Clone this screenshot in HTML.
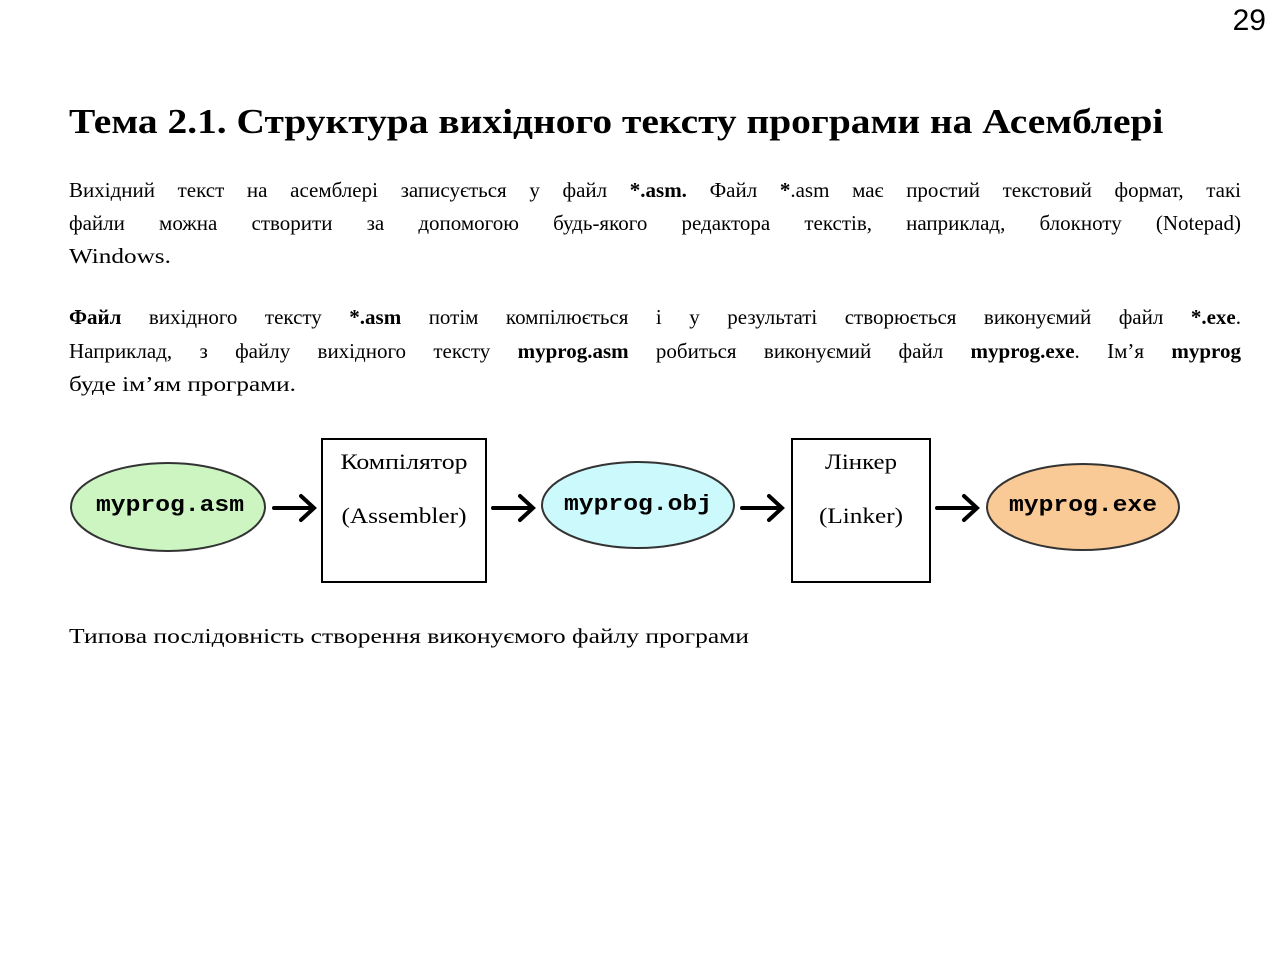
<!DOCTYPE html>
<html><head><meta charset="utf-8"><style>
body{margin:0;width:1280px;height:955px;background:#fff;position:relative;overflow:hidden;font-family:"Liberation Serif",serif;color:#000}
.a{position:absolute;white-space:nowrap;transform-origin:0 0}
.l{position:absolute;left:69px;width:1172px;font-size:21px;text-align:justify;text-align-last:justify;white-space:nowrap;line-height:24px}
</style></head><body>
<div class="a" style="right:14px;top:4px;font:30px 'Liberation Sans',sans-serif">29</div>
<div class="a" style="left:69px;top:100px;font-size:35px;font-weight:bold;line-height:44px;transform:scaleX(1.127)">Тема 2.1. Структура вихідного тексту програми на Асемблері</div>
<div class="l" style="top:178px">Вихідний текст на асемблері записується у файл <b>*.asm.</b> Файл <b>*</b>.asm має простий текстовий формат, такі</div>
<div class="l" style="top:211px">файли можна створити за допомогою будь-якого редактора текстів, наприклад, блокноту (Notepad)</div>
<div class="a" style="left:69px;top:244px;font-size:21px;line-height:24px;transform:scaleX(1.2)">Windows.</div>
<div class="l" style="top:305px"><b>Файл</b> вихідного тексту <b>*.asm</b> потім компілюється і у результаті створюється виконуємий файл <b>*.exe</b>.</div>
<div class="l" style="top:339px">Наприклад, з файлу вихідного тексту <b>myprog.asm</b> робиться виконуємий файл <b>myprog.exe</b>. Ім’я <b>myprog</b></div>
<div class="a" style="left:69px;top:372px;font-size:21px;line-height:24px;transform:scaleX(1.2)">буде ім’ям програми.</div>
<svg class="a" style="left:0;top:0" width="1280" height="955">
<g stroke="#333" stroke-width="2">
<ellipse cx="168" cy="507" rx="97" ry="44" fill="#ccf5c2"/>
<ellipse cx="638" cy="505" rx="96" ry="43" fill="#ccf9fb"/>
<ellipse cx="1083" cy="507" rx="96" ry="43" fill="#f9c996"/>
</g>
<g stroke="#000" stroke-width="2" fill="#fff">
<rect x="322" y="439" width="164" height="143"/>
<rect x="792" y="439" width="138" height="143"/>
</g>
<g stroke="#000" stroke-width="4" fill="none" stroke-linecap="round">
<path d="M274 508H313M301 496L314 508L301 520"/>
<path d="M493 508H532M520 496L533 508L520 520"/>
<path d="M742 508H781M769 496L782 508L769 520"/>
<path d="M937 508H976M964 496L977 508L964 520"/>
</g>
<g font-family="Liberation Mono,monospace" font-weight="bold" font-size="22" text-anchor="middle">
<text x="170" y="511" textLength="148" lengthAdjust="spacingAndGlyphs">myprog.asm</text>
<text x="638" y="510" textLength="148" lengthAdjust="spacingAndGlyphs">myprog.obj</text>
<text x="1083" y="511" textLength="148" lengthAdjust="spacingAndGlyphs">myprog.exe</text>
</g>
<g font-family="Liberation Serif,serif" font-size="22" text-anchor="middle">
<text x="404" y="469" textLength="127" lengthAdjust="spacingAndGlyphs">Компілятор</text>
<text x="404" y="523" textLength="125" lengthAdjust="spacingAndGlyphs">(Assembler)</text>
<text x="861" y="469" textLength="72" lengthAdjust="spacingAndGlyphs">Лінкер</text>
<text x="861" y="523" textLength="84" lengthAdjust="spacingAndGlyphs">(Linker)</text>
</g>
</svg>
<div class="a" style="left:69px;top:624px;font-size:21px;line-height:24px;transform:scaleX(1.215)">Типова послідовність створення виконуємого файлу програми</div>
</body></html>
